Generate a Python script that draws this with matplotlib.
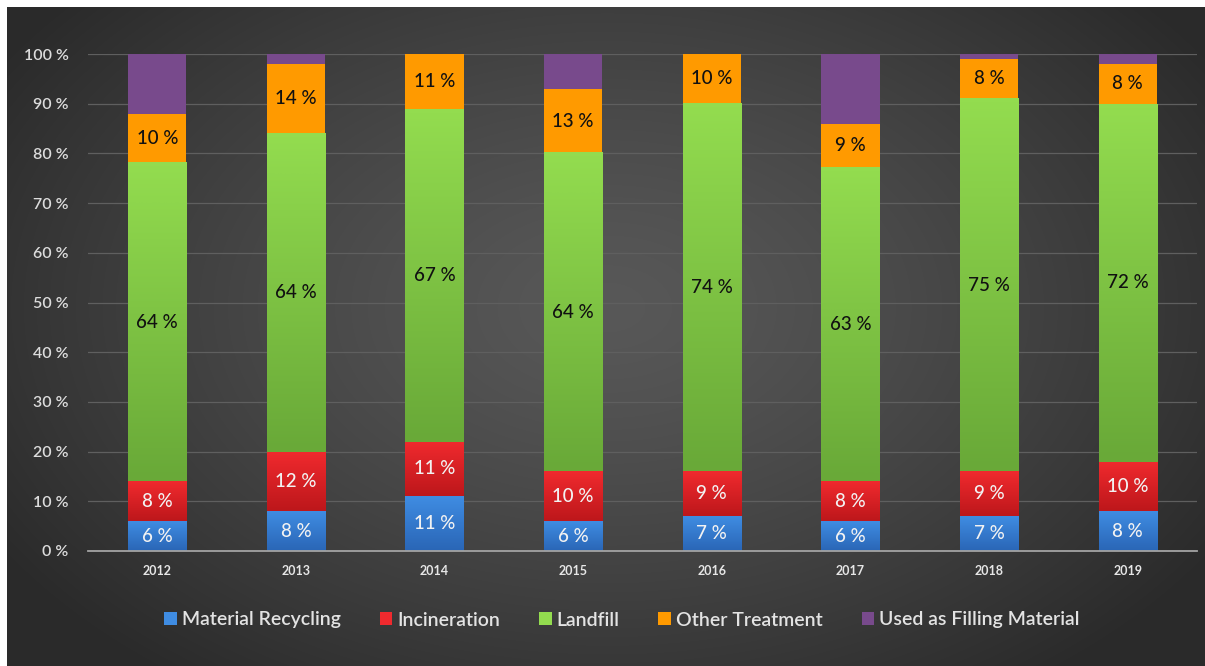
import numpy as np
import matplotlib.pyplot as plt
from matplotlib.colors import LinearSegmentedColormap

years = ["2012", "2013", "2014", "2015", "2016", "2017", "2018", "2019"]
recycling = [6, 8, 11, 6, 7, 6, 7, 8]
incineration = [8, 12, 11, 10, 9, 8, 9, 10]
landfill = [64, 64, 67, 64, 74, 63, 75, 72]
other = [10, 14, 11, 13, 10, 9, 8, 8]
# filling material is the remainder up to 100 % (not labelled)
filling = [100 - sum(v) for v in zip(recycling, incineration, landfill, other)]

series = [
    ("Material Recycling", recycling, ("#3f8ce2", "#2a66b6"), "#f2f2f2", True),
    ("Incineration", incineration, ("#f02a2e", "#bd171b"), "#f2f2f2", True),
    ("Landfill", landfill, ("#93dc4f", "#69a938"), "#111111", True),
    ("Other Treatment", other, ("#ff9a00", "#ff9a00"), "#111111", True),
    ("Used as Filling Material", filling, ("#784a8c", "#784a8c"), None, False),
]

plt.rcParams['font.family'] = ['Lato', 'DejaVu Sans']

W, H = 1205, 666
fig = plt.figure(figsize=(W / 100, H / 100), dpi=100, facecolor="white")

# dark panel with a soft radial light in the middle
bg = fig.add_axes([7 / W, 0, 1 - 7 / W, 1 - 7 / H], zorder=-1)
bw, bh = W - 7, H - 7
yy, xx = np.mgrid[0:bh, 0:bw]
r = np.sqrt(((xx - 600) / 720.0) ** 2 + ((yy - 300) / 470.0) ** 2)
r = np.clip(r, 0, 1) ** 1.3
c_in, c_out = np.array([0x58, 0x58, 0x58]) / 255, np.array([0x2a, 0x2a, 0x2a]) / 255
img = c_in[None, None, :] * (1 - r[..., None]) + c_out[None, None, :] * r[..., None]
bg.imshow(img, aspect="auto", interpolation="bilinear")
bg.set_axis_off()

ax = fig.add_axes([88 / W, (H - 551) / H, (1197 - 88) / W, (551 - 54) / H])
ax.set_facecolor("none")

x = np.arange(len(years))
width = 0.42
bottom = np.zeros(len(years))
grad = np.linspace(0, 1, 64).reshape(-1, 1)

for name, vals, (c_top, c_bot), txt_color, labelled in series:
    vals = np.array(vals, dtype=float)
    bars = ax.bar(x, vals, width, bottom=bottom, color=c_top, label=name,
                  linewidth=0, zorder=2)
    cmap = LinearSegmentedColormap.from_list(name, [c_top, c_bot])
    for rect, v in zip(bars, vals):
        if v <= 0:
            continue
        x0, y0 = rect.get_x(), rect.get_y()
        x1, y1 = x0 + rect.get_width(), y0 + rect.get_height()
        if c_top != c_bot:
            ax.imshow(grad, extent=[x0, x1, y0, y1], origin="upper", aspect="auto",
                      cmap=cmap, zorder=2.5, interpolation="bilinear")
        if labelled:
            ax.text((x0 + x1) / 2, (y0 + y1) / 2, f"{v:.0f} %", ha="center", va="center",
                    fontsize=13.5, color=txt_color, fontweight="medium", zorder=3)
    bottom += vals

ax.set_xlim(-0.5, len(years) - 0.5)
ax.set_ylim(0, 100)
ax.set_xticks(x)
ax.set_xticklabels(years, fontsize=9, color="#e6e6e6", fontweight="bold")
ax.set_yticks(range(0, 101, 10))
ax.set_yticklabels([f"{v} %" for v in range(0, 101, 10)], fontsize=11.5, color="#dcdcdc",
                   fontweight="semibold")
ax.tick_params(axis="both", length=0)
ax.tick_params(axis="y", pad=14)
ax.tick_params(axis="x", pad=10)
ax.grid(axis="y", color="#5f5f5f", linewidth=0.9, zorder=0)
ax.set_axisbelow(True)
for s in ["top", "right", "left"]:
    ax.spines[s].set_visible(False)
ax.spines["bottom"].set_color("#a3a3a3")
ax.spines["bottom"].set_linewidth(1.3)
ax.spines["bottom"].set_zorder(4)

handles, labels = ax.get_legend_handles_labels()
leg = fig.legend(handles, labels, loc="center", bbox_to_anchor=(622 / W, (H - 620) / H),
                 ncol=5, frameon=False, fontsize=14,
                 prop={"size": 14, "weight": "semibold"},
                 handlelength=0.65, handleheight=0.65,
                 handletextpad=0.25, columnspacing=2.0, labelcolor="#e3e3e3")

fig.savefig("out.png", dpi=100, facecolor="white")
